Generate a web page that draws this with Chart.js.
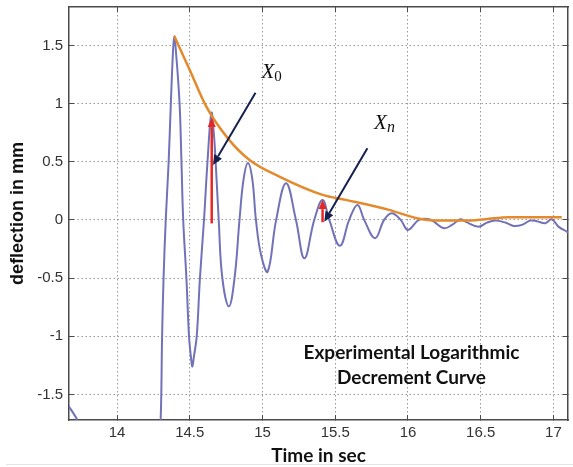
<!DOCTYPE html>
<html>
<head>
<meta charset="utf-8">
<script src="https://cdn.jsdelivr.net/npm/chart.js@4.4.0/dist/chart.umd.min.js"></script>
<style>
  html, body { margin: 0; padding: 0; background: #fff; }
  #wrap { position: relative; width: 573px; height: 467px; }
  #edge { position: absolute; left: 6px; right: 0; top: 464px; height: 1px; background: #e4e4e4; }
</style>
</head>
<body>
<div id="wrap">
  <canvas id="chart" width="573" height="467"></canvas>
  <div id="edge"></div>
</div>
<script>
// measured signal (blue) - time in sec / deflection in mm
const time_sec = [
  13.64, 13.67, 13.725, 13.80, 14.00, 14.20, 14.285, 14.30, 14.31, 14.32, 14.335, 14.355, 14.37, 14.385,
  14.394, 14.405, 14.43, 14.443, 14.455, 14.477, 14.495, 14.51, 14.518, 14.528, 14.548, 14.57, 14.598,
  14.622, 14.649, 14.665, 14.678, 14.699, 14.724, 14.769, 14.808, 14.842, 14.87, 14.90, 14.93, 14.955,
  14.99, 15.036, 15.094, 15.162, 15.23, 15.288, 15.356, 15.413, 15.459, 15.532, 15.596, 15.653, 15.699,
  15.774, 15.836, 15.888, 15.95, 16.0, 16.075, 16.144, 16.178, 16.247, 16.303, 16.361, 16.395, 16.486,
  16.543, 16.601, 16.669, 16.726, 16.783, 16.84, 16.886, 16.943, 16.988, 17.034, 17.091, 17.12
]
const deflection_mm = [
  -1.55, -1.605, -1.714, -1.90, -2.10, -2.10, -1.95, -1.72, -1.00, -0.50, 0.00, 0.50, 1.00, 1.45,
  1.58, 1.45, 1.00, 0.50, 0.00, -0.50, -1.00, -1.20, -1.26, -1.18, -1.00, -0.50, 0.00,
  0.50, 0.92, 0.75, 0.50, 0.00, -0.50, -0.744, -0.50, 0.00, 0.35, 0.49, 0.35, 0.00,
  -0.30, -0.444, 0.00, 0.315, 0.00, -0.33, 0.00, 0.17, 0.00, -0.223, 0.00, 0.129, 0.00,
  -0.157, 0.00, 0.057, 0.00, -0.086, 0.00, 0.006, -0.015, -0.071, -0.043, 0.006, -0.015, -0.058,
  -0.023, -0.006, -0.023, -0.052, -0.043, -0.006, -0.011, -0.028, 0.006, -0.058, -0.10, -0.12
]

// fitted decay envelope (orange)
const envelope_time = [14.394, 14.5, 14.614, 14.762, 14.911, 15.116, 15.413, 15.573, 15.87, 16.053, 16.212, 16.395, 16.532, 16.692, 16.851, 17.057]
const envelope_mm = [1.58, 1.288, 0.973, 0.701, 0.515, 0.372, 0.215, 0.172, 0.086, 0.017, -0.006, -0.006, 0.006, 0.023, 0.023, 0.023]

const x_ticks = [14, 14.5, 15, 15.5, 16, 16.5, 17]
const y_ticks = [-1.5, -1, -0.5, 0, 0.5, 1, 1.5]

function to_points(xs, ys) {
  return xs.map((x, i) => ({x: x, y: ys[i]}))
}

// arrows and labels, in data units
const notes = {
  red_arrows: [[14.651, -0.03, 14.651, 0.875], [15.413, -0.02, 15.413, 0.17]],
  dark_arrows: [[14.952, 1.093, 14.66, 0.472], [15.721, 0.615, 15.425, -0.015]],
  x0: [14.993, 1.221],
  xn: [15.767, 0.781],
  caption: [16.024, -1.142, -1.356]
}

function draw_arrow(ctx, x1, y1, x2, y2, color, width, head) {
  const ang = Math.atan2(y2 - y1, x2 - x1)
  const bx = x2 - head * Math.cos(ang)
  const by = y2 - head * Math.sin(ang)
  ctx.save()
  ctx.strokeStyle = color
  ctx.fillStyle = color
  ctx.lineWidth = width
  ctx.beginPath()
  ctx.moveTo(x1, y1)
  ctx.lineTo(bx, by)
  ctx.stroke()
  ctx.beginPath()
  ctx.moveTo(x2, y2)
  ctx.lineTo(bx + head * 0.45 * Math.sin(ang), by - head * 0.45 * Math.cos(ang))
  ctx.lineTo(bx - head * 0.45 * Math.sin(ang), by + head * 0.45 * Math.cos(ang))
  ctx.closePath()
  ctx.fill()
  ctx.restore()
}

const annotations = {
  id: 'annotations',
  afterDatasetsDraw(chart) {
    const ctx = chart.ctx
    const sx = chart.scales.x
    const sy = chart.scales.y
    const px = v => sx.getPixelForValue(v)
    const py = v => sy.getPixelForValue(v)

    notes.red_arrows.forEach(a => draw_arrow(ctx, px(a[0]), py(a[1]), px(a[2]), py(a[3]), 'rgb(232,38,36)', 2.5, 9))
    notes.dark_arrows.forEach(a => draw_arrow(ctx, px(a[0]), py(a[1]), px(a[2]), py(a[3]), 'rgb(22,32,78)', 2, 10))

    ctx.save()
    ctx.fillStyle = '#111'
    ctx.textBaseline = 'alphabetic'
    ctx.textAlign = 'left'
    ctx.font = 'italic 21px "Liberation Serif"'
    let x = px(notes.x0[0]), y = py(notes.x0[1])
    ctx.fillText('X', x, y)
    let w = ctx.measureText('X').width
    ctx.font = '15px "Liberation Serif"'
    ctx.fillText('0', x + w, y + 3)

    x = px(notes.xn[0]); y = py(notes.xn[1])
    ctx.font = 'italic 21px "Liberation Serif"'
    ctx.fillText('X', x, y)
    w = ctx.measureText('X').width
    ctx.font = 'italic 16px "Liberation Serif"'
    ctx.fillText('n', x + w, y + 3)

    ctx.textAlign = 'center'
    ctx.textBaseline = 'middle'
    ctx.font = 'bold 19px Lato'
    ctx.fillText('Experimental Logarithmic', px(notes.caption[0]), py(notes.caption[1]))
    ctx.fillText('Decrement Curve', px(notes.caption[0]), py(notes.caption[2]))
    ctx.restore()
  }
}

// fixed box sizes so the plot frame sits where the picture has it
function fix_size(prop, size) {
  return s => {
    s[prop] = size
    s.paddingTop = 0
    s.paddingBottom = 0
    s.paddingLeft = 0
    s.paddingRight = 0
  }
}

const grid_color = '#999'
const box_color = '#4a4a4a'
const tick_font = {family: 'Liberation Sans', size: 15}

new Chart(document.getElementById('chart'), {
  type: 'scatter',
  data: {
    datasets: [
      {
        label: 'envelope',
        data: to_points(envelope_time, envelope_mm),
        showLine: true,
        borderColor: 'rgb(228,138,44)',
        borderWidth: 2.5,
        pointRadius: 0,
        cubicInterpolationMode: 'monotone',
        clip: 0
      },
      {
        label: 'deflection',
        data: to_points(time_sec, deflection_mm),
        showLine: true,
        borderColor: 'rgb(114,114,184)',
        borderWidth: 2,
        pointRadius: 0,
        tension: 0.4,
        clip: 0
      }
    ]
  },
  options: {
    responsive: false,
    devicePixelRatio: 1,
    animation: false,
    layout: {padding: 0},
    plugins: {
      legend: {display: false},
      tooltip: {enabled: false}
    },
    scales: {
      x: {
        type: 'linear',
        position: 'bottom',
        min: 13.67,
        max: 17.1,
        afterBuildTicks: s => { s.ticks = x_ticks.map(v => ({value: v})) },
        afterFit: fix_size('height', 47),
        grid: {color: grid_color, lineWidth: 1, tickLength: -5, tickColor: box_color, tickWidth: 1},
        border: {color: box_color, width: 1.5, dash: [1.5, 2.5]},
        ticks: {color: '#333', font: tick_font, padding: 9, maxRotation: 0, callback: v => String(v)},
        title: {display: true, text: 'Time in sec', color: '#111', font: {family: 'Lato', size: 19, weight: 'bold'}, padding: {top: 0, bottom: 0}}
      },
      y: {
        type: 'linear',
        position: 'left',
        min: -1.72,
        max: 1.83,
        afterBuildTicks: s => { s.ticks = y_ticks.map(v => ({value: v})) },
        afterFit: fix_size('width', 69),
        grid: {color: grid_color, lineWidth: 1, tickLength: -5, tickColor: box_color, tickWidth: 1},
        border: {color: box_color, width: 1.5, dash: [1.5, 2.5]},
        ticks: {color: '#333', font: tick_font, padding: 11, callback: v => String(v)},
        title: {display: true, text: 'deflection in mm', color: '#111', font: {family: 'Liberation Sans', size: 18, weight: 'bold'}, padding: {top: 7, bottom: 0}}
      },
      x2: {
        type: 'linear',
        position: 'top',
        min: 13.67,
        max: 17.1,
        afterBuildTicks: s => { s.ticks = x_ticks.map(v => ({value: v})) },
        afterFit: fix_size('height', 7),
        grid: {drawOnChartArea: false, tickLength: -5, tickColor: box_color, tickWidth: 1},
        border: {color: box_color, width: 1.5},
        ticks: {display: false}
      },
      y2: {
        type: 'linear',
        position: 'right',
        min: -1.72,
        max: 1.83,
        afterBuildTicks: s => { s.ticks = y_ticks.map(v => ({value: v})) },
        afterFit: fix_size('width', 5),
        grid: {drawOnChartArea: false, tickLength: -5, tickColor: box_color, tickWidth: 1},
        border: {color: box_color, width: 1.5},
        ticks: {display: false}
      }
    }
  },
  plugins: [annotations]
})
</script>
</body>
</html>
